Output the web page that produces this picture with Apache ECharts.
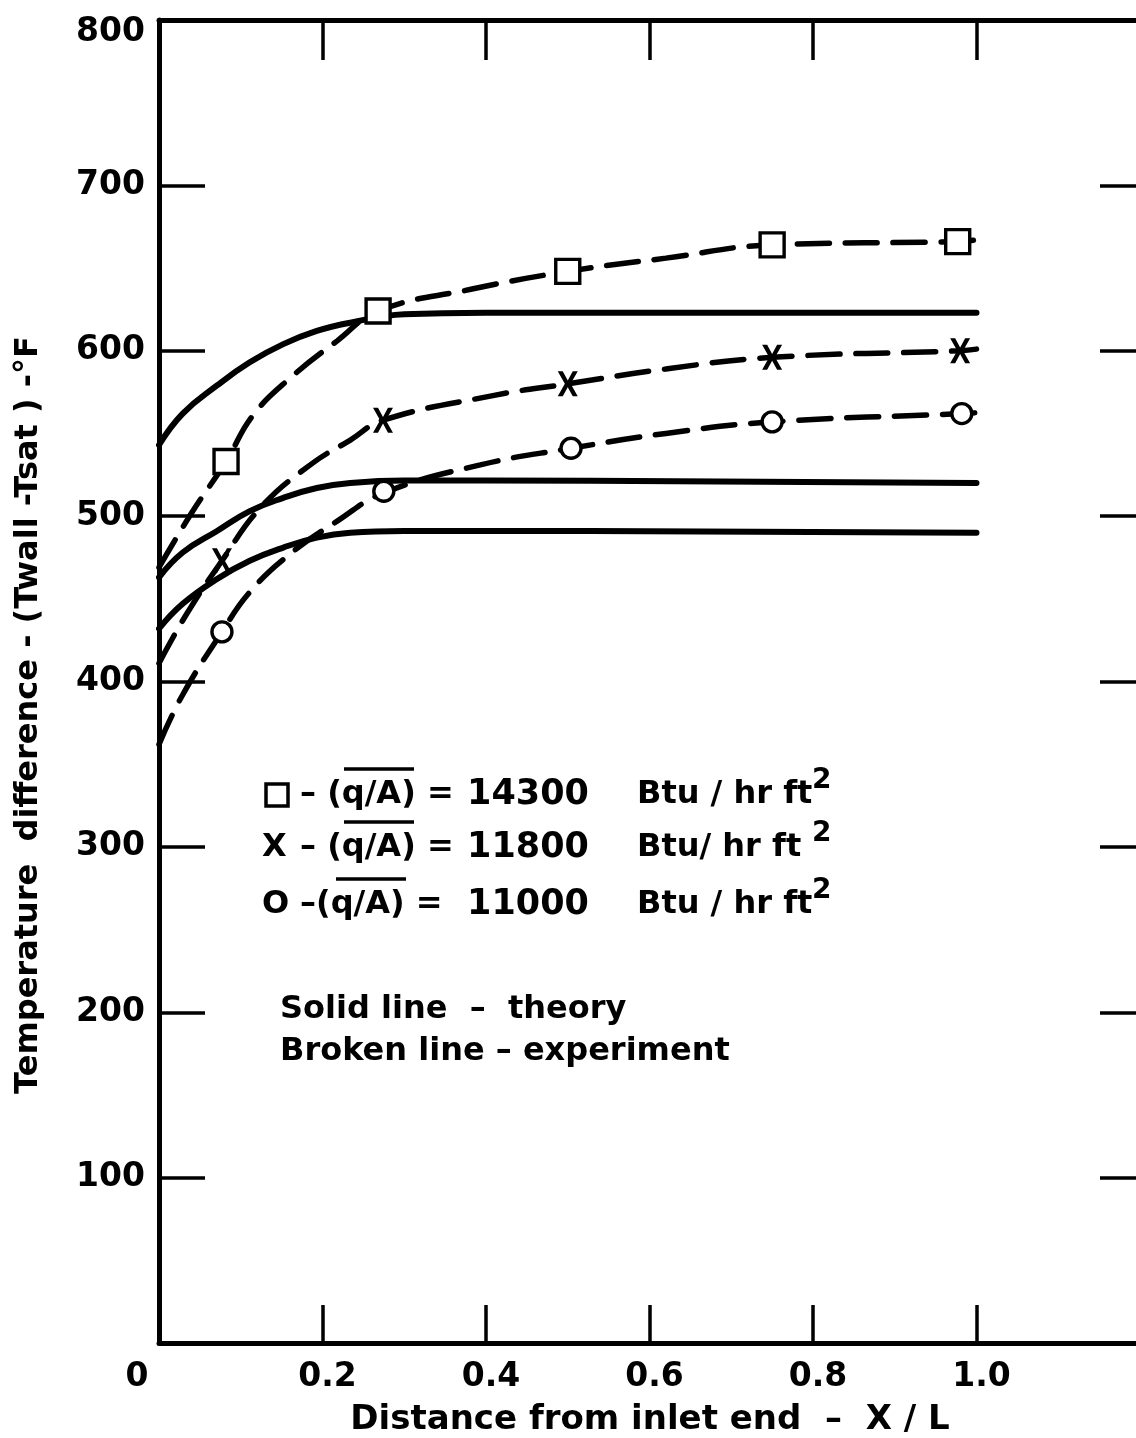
<!DOCTYPE html>
<html>
<head>
<meta charset="utf-8">
<title>Wall superheat along the tube</title>
<script src="https://cdn.jsdelivr.net/npm/echarts@6/dist/echarts.min.js"></script>
<style>
  html, body { margin: 0; padding: 0; background: #fff; }
  #chart { width: 1136px; height: 1438px; }
</style>
</head>
<body>
<div id="chart"></div>
<script>
// ---- axis ticks -------------------------------------------------------
const xTickValues = [0, 0.2, 0.4, 0.6, 0.8, 1.0, 1.2];
const xTickLabels = ['0', '0.2', '0.4', '0.6', '0.8', '1.0', ''];
const yTickValues = [0, 100, 200, 300, 400, 500, 600, 700, 800];
const yTickLabels = ['', '100', '200', '300', '400', '500', '600', '700', '800'];

// ---- theory (solid) curves: [X/L, Twall - Tsat] ----------------------
const theory14300 = [[0, 543], [0.029, 562], [0.071, 579], [0.111, 593], [0.152, 604],
  [0.193, 612], [0.234, 617], [0.30, 622], [0.40, 623], [1.0, 623]];
const theory11800 = [[0, 463], [0.029, 478], [0.071, 491], [0.111, 503], [0.152, 511],
  [0.193, 517], [0.234, 520], [0.30, 521.5], [0.40, 521.5], [1.0, 520]];
const theory11000 = [[0, 432], [0.029, 447], [0.071, 462], [0.111, 473], [0.152, 481],
  [0.193, 487], [0.234, 490], [0.30, 491], [0.40, 491], [1.0, 490]];

// ---- experiment (broken) curves --------------------------------------
const expCurve14300 = [[0, 469], [0.04, 502], [0.082, 533], [0.115, 561], [0.164, 585],
  [0.218, 606], [0.268, 624], [0.38, 637], [0.5, 648], [0.62, 656], [0.75, 664],
  [0.977, 666], [1.0, 667]];
const expCurve11800 = [[0, 411], [0.034, 441], [0.077, 473], [0.124, 505], [0.185, 531],
  [0.234, 546], [0.274, 558], [0.41, 573], [0.5, 580], [0.62, 589], [0.75, 596],
  [0.98, 600], [1.0, 601]];
const expCurve11000 = [[0, 362], [0.029, 392], [0.077, 430], [0.111, 454], [0.16, 477],
  [0.218, 497], [0.275, 514], [0.393, 531], [0.504, 541], [0.62, 550], [0.75, 557],
  [0.982, 562], [1.0, 562.5]];

// ---- measured points --------------------------------------------------
const points14300 = [[0.082, 533], [0.268, 624], [0.5, 648], [0.75, 664], [0.977, 666]];
const points11800 = [[0.077, 473], [0.274, 558], [0.5, 580], [0.75, 596], [0.98, 600]];
const points11000 = [[0.077, 430], [0.275, 515], [0.504, 541], [0.75, 557], [0.982, 562]];

// ---- key text ---------------------------------------------------------
const keySymbols = ['square', 'X', 'O'];
const keyLeadTexts = ['– (q/A) =', '– (q/A) =', '–(q/A) ='];
const keyFluxes = ['14300', '11800', '11000'];
const keyUnits = ['Btu / hr ft', 'Btu/ hr ft', 'Btu / hr ft'];
const noteLines = ['Solid line  –  theory', 'Broken line – experiment'];

const FONT = '"DejaVu Sans", "Liberation Sans", sans-serif';
const INK = '#000';

const X_MARK = 'path://M0,0 H5 L10,9.2 L15,0 H20 L12.9,12.5 L20,25 H15 L10,15.8 L5,25 H0 L7.1,12.5 Z';

function labelFor(values, labels) {
  return function (v) {
    const i = values.findIndex(t => Math.abs(t - v) < 1e-9);
    return i < 0 ? '' : labels[i];
  };
}
const xLab = labelFor(xTickValues, xTickLabels);
const yLab = labelFor(yTickValues, yTickLabels);

const tickFont = { fontFamily: FONT, fontWeight: 'bold', fontSize: 33, color: INK };

function frameAxisX(position, showLabel, tickLen) {
  return {
    type: 'value', min: 0, max: 1.2, interval: 0.2, position: position,
    axisLine: { show: true, onZero: false, lineStyle: { color: INK, width: 5 } },
    axisTick: { show: true, inside: true, length: tickLen, lineStyle: { color: INK, width: 3.5 } },
    splitLine: { show: false },
    axisLabel: showLabel ? {
      show: true, margin: 18,
      formatter: function (v) {
        const t = xLab(v);
        if (t === '') return '';
        return v === 0 ? '{z|' + t + '}' : '{n|' + t + '}';
      },
      rich: {
        z: Object.assign({ padding: [0, 44, 0, 0] }, tickFont),
        n: Object.assign({ padding: [0, 0, 0, 10] }, tickFont)
      }
    } : { show: false }
  };
}
function frameAxisY(position, showLabel, tickLen) {
  return {
    type: 'value', min: 0, max: 800, interval: 100, position: position,
    axisLine: { show: true, onZero: false, lineStyle: { color: INK, width: 5 } },
    axisTick: { show: true, inside: true, length: tickLen, lineStyle: { color: INK, width: 3.5 } },
    splitLine: { show: false },
    axisLabel: showLabel ? {
      show: true, margin: 14,
      formatter: function (v) {
        const t = yLab(v);
        if (t === '') return '';
        return v === 800 ? '{top|' + t + '}' : '{n|' + t + '}';
      },
      rich: {
        top: Object.assign({ padding: [24, 0, 0, 0] }, tickFont),
        n: Object.assign({}, tickFont)
      }
    } : { show: false }
  };
}

function solid(data) {
  return {
    type: 'line', data: data, smooth: 0.45, showSymbol: false,
    lineStyle: { color: INK, width: 6, cap: 'round', opacity: 1 }, z: 3, silent: true
  };
}
function broken(data) {
  return {
    type: 'line', data: data, smooth: 0.45, showSymbol: false,
    lineStyle: { color: INK, width: 5.5, type: [32, 16], cap: 'round', opacity: 1 }, z: 3, silent: true
  };
}
function marks(data, symbol, size, filled) {
  return {
    type: 'scatter', data: data, symbol: symbol, symbolSize: size, z: 5, silent: true,
    itemStyle: filled
      ? { color: INK, opacity: 1 }
      : { color: '#fff', borderColor: INK, borderWidth: 3.4, opacity: 1 }
  };
}

// ---- key block ---------------------------------------------------------
const keyRowsY = [795, 848, 905];
const keyGraphics = [];
keyRowsY.forEach(function (cy, i) {
  const txt = { fontFamily: FONT, fontWeight: 'bold', fill: INK, verticalAlign: 'middle' };
  if (keySymbols[i] === 'square') {
    keyGraphics.push({ type: 'rect', shape: { x: 266, y: cy - 11, width: 22, height: 22 },
      style: { fill: 'none', stroke: INK, lineWidth: 3.5 } });
  } else {
    keyGraphics.push({ type: 'text', x: 262, y: cy,
      style: Object.assign({ text: keySymbols[i], fontSize: 32, align: 'left' }, txt) });
  }
  keyGraphics.push({ type: 'text', x: 300, y: cy,
    style: Object.assign({ text: keyLeadTexts[i], fontSize: 32, align: 'left' }, txt) });
  // bar over q/A
  const qStart = i === 2 ? 336 : 344;
  keyGraphics.push({ type: 'line', shape: { x1: qStart, y1: cy - 26, x2: qStart + 70, y2: cy - 26 },
    style: { stroke: INK, lineWidth: 3.5 } });
  keyGraphics.push({ type: 'text', x: 528, y: cy,
    style: Object.assign({ text: keyFluxes[i], fontSize: 35, align: 'center' }, txt) });
  keyGraphics.push({ type: 'text', x: 637, y: cy,
    style: Object.assign({ text: keyUnits[i], fontSize: 32, align: 'left' }, txt) });
  keyGraphics.push({ type: 'text', x: 812, y: cy - 14,
    style: Object.assign({ text: '2', fontSize: 28, align: 'left' }, txt) });
});
noteLines.forEach(function (t, i) {
  keyGraphics.push({ type: 'text', x: 280, y: 1010 + i * 42,
    style: { text: t, fontFamily: FONT, fontWeight: 'bold', fontSize: 32, fill: INK,
      align: 'left', verticalAlign: 'middle' } });
});

// ---- axis titles ------------------------------------------------------
keyGraphics.push({ type: 'text', x: 650, y: 1420,
  style: { text: 'Distance from inlet end  –  X / L', fontFamily: FONT, fontWeight: 'bold',
    fontSize: 34, fill: INK, align: 'center', verticalAlign: 'middle' } });
keyGraphics.push({ type: 'text', x: 29, y: 715, rotation: Math.PI / 2,
  style: { text: 'Temperature  difference - (Twall -Tsat ) -°F', fontFamily: FONT, fontWeight: 'bold',
    fontSize: 32, fill: INK, align: 'center', verticalAlign: 'middle' } });

const chart = echarts.init(document.getElementById('chart'), null, { renderer: 'canvas' });
chart.setOption({
  backgroundColor: '#fff',
  animation: false,
  grid: { left: 159, top: 20, right: -4, bottom: 95, containLabel: false, outerBoundsMode: 'none' },
  xAxis: [frameAxisX('bottom', true, 38), frameAxisX('top', false, 40)],
  yAxis: [frameAxisY('left', true, 46), frameAxisY('right', false, 40)],
  series: [
    solid(theory14300), solid(theory11800), solid(theory11000),
    broken(expCurve14300), broken(expCurve11800), broken(expCurve11000),
    marks(points14300, 'rect', 24, false),
    marks(points11800, X_MARK, [20, 25], true),
    marks(points11000, 'circle', 20, false)
  ],
  graphic: keyGraphics
});
</script>
</body>
</html>
